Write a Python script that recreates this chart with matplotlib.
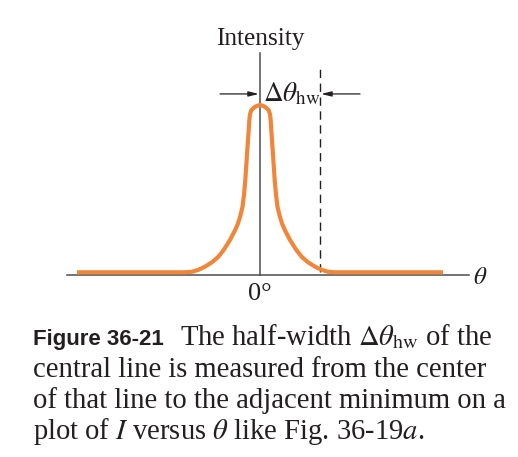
import matplotlib
matplotlib.use('Agg')
import matplotlib.pyplot as plt

plt.rcParams['mathtext.fontset'] = 'stix'
plt.rcParams['font.family'] = ['Liberation Serif', 'DejaVu Serif']

# central line of the pattern
# (one side only, theta in units of the half-width)
theta_half = [0.0, 0.05, 0.092, 0.145, 0.167, 0.178, 0.192, 0.212, 0.245, 0.267,
              0.292, 0.33, 0.37, 0.42, 0.5, 0.6, 0.695, 0.8, 0.917, 1.03,
              1.133, 1.25, 3.05]
inten_half = [1.0, 0.995, 0.987, 0.969, 0.945, 0.91, 0.832, 0.734, 0.558, 0.47,
              0.40, 0.345, 0.30, 0.26, 0.206, 0.15, 0.107, 0.075, 0.049, 0.03,
              0.019, 0.016, 0.016]

theta = [-t for t in theta_half[::-1]] + theta_half[1:]
inten = inten_half[::-1] + inten_half[1:]

hw_theta = 1.0          # adjacent minimum
zero_label = '0°'
x_label = r'$\theta$'
y_label = 'Intensity'

caption_head = 'Figure 36-21'
caption_lines = [r'The half-width $\Delta\theta_{\mathrm{hw}}$ of the',
                 'central line is measured from the center',
                 'of that line to the adjacent minimum on a',
                 r'plot of $I$ versus $\theta$ like Fig. 36-19$a$.']

W, H = 518, 457
ink = '#231f20'
orange = '#f0863a'

fig = plt.figure(figsize=(W / 100, H / 100), dpi=100)
ax = fig.add_axes([0, 0, 1, 1])
# 60 px per theta unit, centre at x=260 px ; intensity 0 at y=275 px, 170 px per unit
ax.set_xlim(-260 / 60, (W - 260) / 60)
ax.set_ylim(-(H - 275) / 170, 275 / 170)
ax.axis('off')

# axes of the sketch
ax.plot([-3.217, 3.483], [0, 0], color='#4d4d4d', lw=1.1, zorder=1)
ax.plot([0, 0], [0, 1.306], color='#4d4d4d', lw=1.1, zorder=1)

# the curve
ax.plot(theta, inten, color=orange, lw=3.0, solid_capstyle='butt',
        solid_joinstyle='round', zorder=3)

# dashed line at the minimum
ax.plot([hw_theta, hw_theta], [0.02, 1.212], color=ink, lw=1.0,
        dashes=(6, 4), zorder=2)

# arrows pointing at the half-width
arr = dict(arrowstyle='-|>,head_length=0.6,head_width=0.15', color=ink, lw=0.9,
           shrinkA=0, shrinkB=0)
ax.annotate('', xy=(-0.02, 1.065), xytext=(-0.667, 1.065), arrowprops=arr)
ax.annotate('', xy=(hw_theta + 0.02, 1.065), xytext=(1.667, 1.065), arrowprops=arr)
ax.text(0.05, 1.024, r'$\Delta\theta_{\mathrm{hw}}$', fontsize=19.5, color=ink,
        ha='left', va='baseline')

ax.text(0, 1.353, y_label, fontsize=18.3, color=ink, ha='center', va='baseline')
ax.text(0, -0.147, zero_label, fontsize=19, color=ink, ha='center', va='baseline')
ax.text(3.55, -0.053, x_label, fontsize=18, color=ink, ha='left', va='baseline')


def px(x, y):
    return x / W, 1 - y / H


# caption
fig.text(*px(33, 345), caption_head, fontsize=16, fontweight='bold', color=ink,
         family=['Liberation Sans', 'DejaVu Sans'], va='baseline')
fig.text(*px(180, 345), caption_lines[0], fontsize=20.6, color=ink, va='baseline')
for i, line in enumerate(caption_lines[1:]):
    fig.text(*px(33, 377 + 31 * i), line, fontsize=20.6, color=ink, va='baseline')

fig.savefig('out.png', dpi=100)
